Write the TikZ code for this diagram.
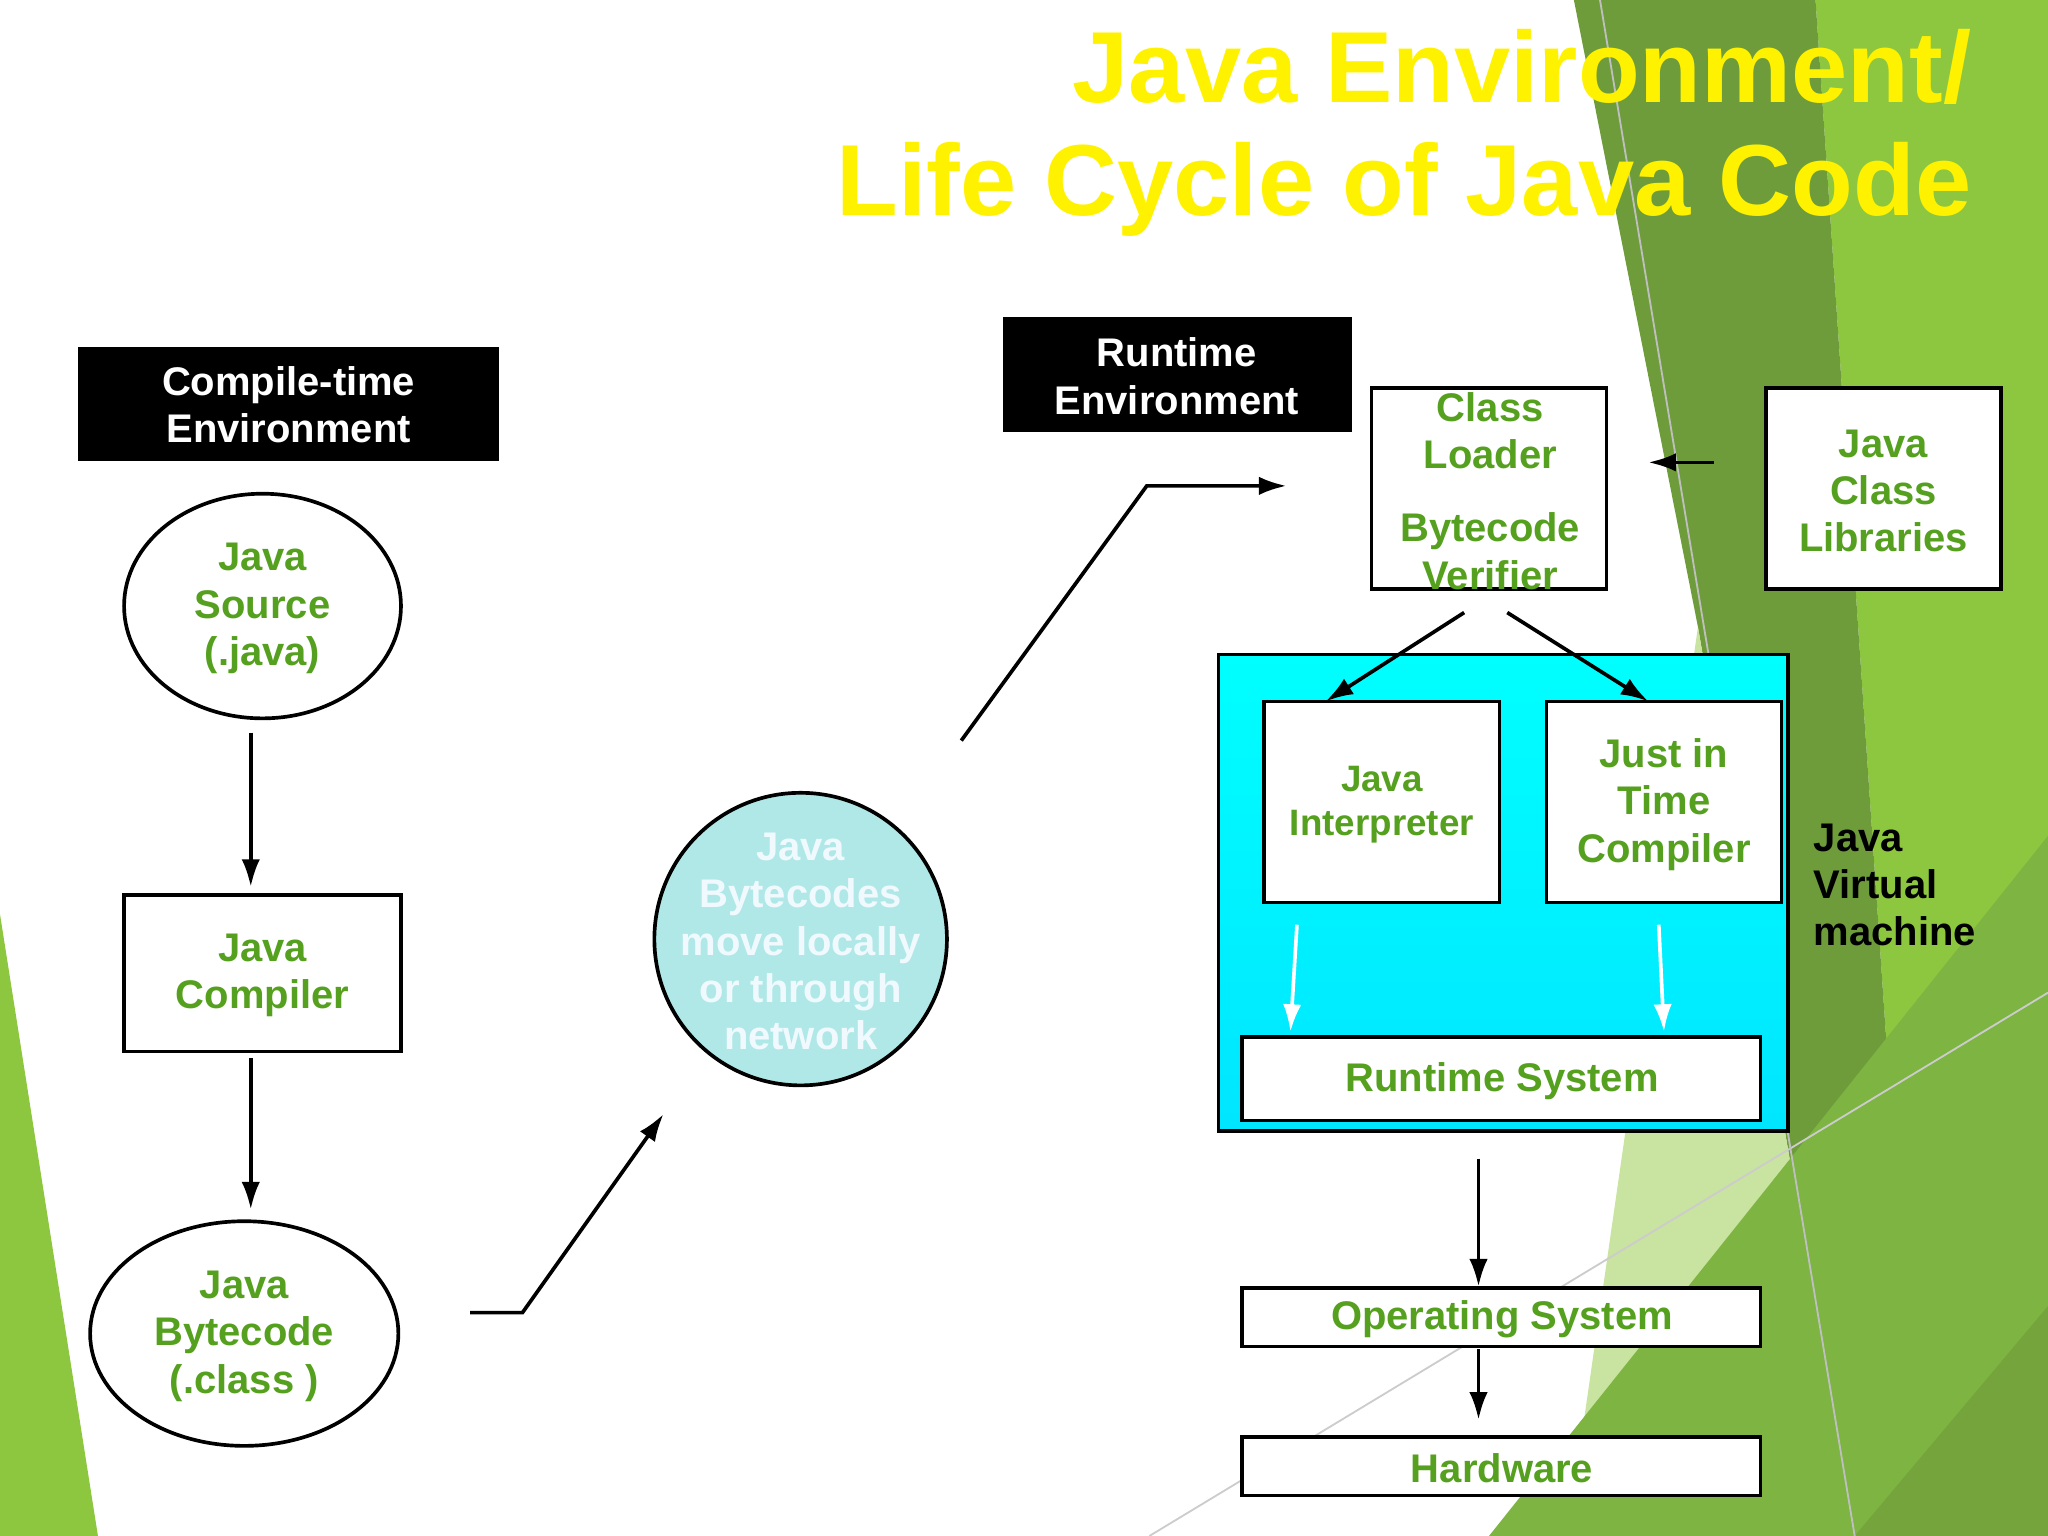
\documentclass[tikz,border=0pt]{standalone}
\usepackage{fontspec}
\setmainfont{Liberation Sans}
\usetikzlibrary{shapes.geometric,arrows.meta}
\definecolor{tg}{HTML}{55A01E}
\definecolor{g1}{HTML}{8DC63F}
\definecolor{g2}{HTML}{6E9C3A}
\definecolor{g3}{HTML}{7DB442}
\definecolor{g4}{HTML}{C9E3A0}
\definecolor{circ}{HTML}{B0E8E8}
\begin{document}
\begin{tikzpicture}[x=0.01cm,y=-0.01cm,
  txt/.style={font=\fontsize{8.7}{10.3}\selectfont\bfseries,text=tg,align=center},
  lab/.style={text=white,font=\fontsize{8.7}{10.3}\selectfont\bfseries,align=center,inner sep=0pt},
  arr/.style={-{Latex[length=6pt,width=4pt]},thick}]
\useasboundingbox (0,0) rectangle (1568,1176);
% background
\fill[g1] (1390,0) -- (1568,0) -- (1568,1176) -- (1470,1176) -- cycle;
\fill[g2] (1205,0) -- (1390,0) -- (1470,1176) -- (1420,1176) -- (1300,480) -- cycle;
\fill[g4] (1300,480) -- (1420,1176) -- (1200,1176) -- cycle;
\fill[g3] (1140,1176) -- (1568,640) -- (1568,1176) -- cycle;
\fill[g2!80!g1] (1420,1176) -- (1568,1000) -- (1568,1176) -- cycle;
\fill[g1] (0,700) -- (0,1176) -- (75,1176) -- cycle;
\draw[gray!40] (880,1176) -- (1568,760);
\draw[gray!50] (1225,0) -- (1420,1176);
% title
\node[anchor=north east,text=yellow,font=\fontsize{22}{24.5}\selectfont\bfseries,align=right,inner sep=0pt] (title) at (1510,22) {Java Environment/\\Life Cycle of Java Code};
% labels
\fill (60,266) rectangle (382,353);
\node[lab] (ct) at (221,310) {Compile-time\\Environment};
\fill (768,243) rectangle (1035,331);
\node[lab] (rt) at (901,288) {Runtime\\Environment};
% nodes
\draw[thick] (201,464) ellipse (106 and 86);
\node[txt] (src) at (201,466) {Java\\Source\\(.java)};
\draw[thick] (95,685) rectangle (307,805);
\node[txt] (comp) at (201,747) {Java\\Compiler};
\draw[thick] (187,1021) ellipse (118 and 86);
\node[txt] (bc) at (187,1023) {Java\\Bytecode\\(.class )};
\draw[thick,fill=circ] (613,719) circle (112);
\node[txt,text=cyan!6!white] (net) at (613,721) {Java\\Bytecodes\\move locally\\or through\\network};
\draw[thick,fill=white] (1050,297) rectangle (1230,451);
\node[txt] (cl) at (1141,330) {Class\\Loader};
\node[txt] (bv) at (1141,422) {Bytecode\\Verifier};
\draw[thick,fill=white] (1352,297) rectangle (1532,451);
\node[txt] (lib) at (1442,376) {Java\\Class\\Libraries};
\draw[thick,top color=cyan,bottom color=cyan!90!blue] (933,501) rectangle (1369,866);
\draw[thick,fill=white] (968,537) rectangle (1148,691);
\node[txt,font=\fontsize{8}{9.6}\selectfont\bfseries] (int) at (1058,616) {Java\\Interpreter};
\draw[thick,fill=white] (1184,537) rectangle (1364,691);
\node[txt] (jit) at (1274,616) {Just in\\Time\\Compiler};
\draw[thick,fill=white] (951,794) rectangle (1348,858);
\node[txt] (rs) at (1150,828) {Runtime System};
\draw[thick,fill=white] (951,986) rectangle (1348,1031);
\node[txt] (os) at (1150,1010) {Operating System};
\draw[thick,fill=white] (951,1100) rectangle (1348,1145);
\node[txt] (hw) at (1150,1124) {Hardware};
\node[txt,text=black,align=left,anchor=north west,inner sep=0pt] (jvm) at (1388,630) {Java\\Virtual\\machine};
% arrows
\draw[arr] (192,561) -- (192,679);
\draw[arr] (192,810) -- (192,926);
\coordinate (a1) at (360,1005); \coordinate (a2) at (400,1005); \coordinate (a3) at (508,853);
\draw[arr] (a1) -- (a2) -- (a3);
\coordinate (b1) at (736,567); \coordinate (b2) at (878,372); \coordinate (b3) at (985,372);
\draw[arr] (b1) -- (b2) -- (b3);
\draw[arr] (1312,354) -- (1262,354);
\draw[arr] (1121,469) -- (1015,537);
\draw[arr] (1154,469) -- (1262,537);
\draw[arr,white] (993,708) -- (988,790);
\draw[arr,white] (1270,708) -- (1274,790);
\draw[arr] (1132,887) -- (1132,985);
\draw[arr] (1132,1033) -- (1132,1087);
\end{tikzpicture}
\end{document}
